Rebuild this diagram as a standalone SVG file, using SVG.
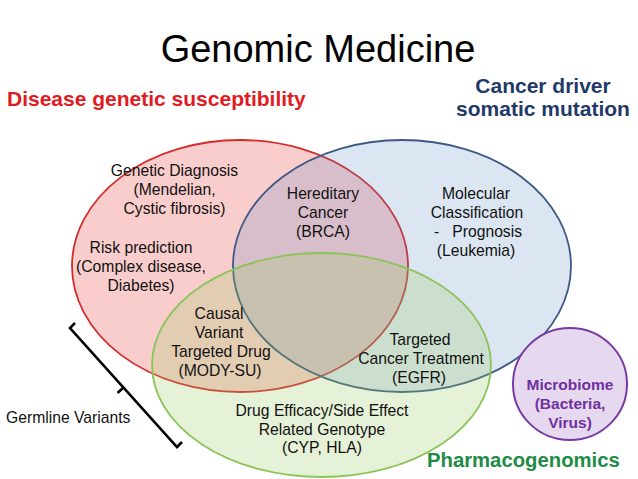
<svg xmlns="http://www.w3.org/2000/svg" width="638" height="479" viewBox="0 0 638 479">
<style>
text { font-family: "Liberation Sans", Arial, Helvetica, sans-serif; }
.t { font-size: 15.7px; fill: #111; text-anchor: middle; }
.ts { font-size: 15.7px; fill: #111; text-anchor: start; }
.title { font-size: 38px; fill: #000; text-anchor: middle; }
.hd { font-size: 21px; font-weight: bold; }
.set { stroke-width: 1.8; }
</style>
<rect width="638" height="479" fill="#ffffff"/>
<text class="title" x="318" y="62">Genomic Medicine</text>
<g id="disease">
  <ellipse class="set" cx="240" cy="266" rx="168" ry="126" fill="rgb(240,90,90)" fill-opacity="0.3" stroke="#d42b2b"/>
</g>
<g id="cancer">
  <ellipse class="set" cx="402" cy="266" rx="169" ry="126" fill="rgb(79,129,189)" fill-opacity="0.2" stroke="#3d5a86"/>
</g>
<g id="pharma">
  <ellipse class="set" cx="321.5" cy="365" rx="169.5" ry="112" fill="rgb(155,205,100)" fill-opacity="0.25" stroke="#8cc45a"/>
</g>
<g id="microbiome">
  <ellipse cx="570" cy="384" rx="57" ry="56" fill="#e6d8ef" stroke="#7a3aa6" stroke-width="2"/>
  <text class="hd" x="570" y="390" text-anchor="middle" fill="#7030a0" style="font-size:15.5px">Microbiome</text>
  <text class="hd" x="570" y="409" text-anchor="middle" fill="#7030a0" style="font-size:15.5px">(Bacteria,</text>
  <text class="hd" x="570" y="428" text-anchor="middle" fill="#7030a0" style="font-size:15.5px">Virus)</text>
</g>
<g id="labels-sets">
  <text class="hd" x="7" y="106" fill="#e11b22">Disease genetic susceptibility</text>
  <text class="hd" x="543" y="93" text-anchor="middle" fill="#1f3a68">Cancer driver</text>
  <text class="hd" x="543" y="116" text-anchor="middle" fill="#1f3a68">somatic mutation</text>
  <text class="hd" x="427" y="467" fill="#1e8c45" style="font-size:20.3px">Pharmacogenomics</text>
</g>
<g id="genetic-diagnosis">
  <text class="t" x="174.5" y="176">Genetic Diagnosis</text>
  <text class="t" x="174.5" y="195">(Mendelian,</text>
  <text class="t" x="174.5" y="214">Cystic fibrosis)</text>
</g>
<g id="risk-prediction">
  <text class="t" x="141" y="253">Risk prediction</text>
  <text class="t" x="141" y="272">(Complex disease,</text>
  <text class="t" x="141" y="291">Diabetes)</text>
</g>
<g id="hereditary-cancer">
  <text class="t" x="323" y="199">Hereditary</text>
  <text class="t" x="323" y="218">Cancer</text>
  <text class="t" x="323" y="237">(BRCA)</text>
</g>
<g id="molecular-classification">
  <text class="t" x="476" y="199">Molecular</text>
  <text class="t" x="477" y="218">Classification</text>
  <text class="t" x="478" y="237" xml:space="preserve">-   Prognosis</text>
  <text class="t" x="476" y="256">(Leukemia)</text>
</g>
<g id="causal-variant">
  <text class="t" x="219" y="319">Causal</text>
  <text class="t" x="219" y="338">Variant</text>
  <text class="t" x="221" y="357">Targeted Drug</text>
  <text class="t" x="220" y="376">(MODY-SU)</text>
</g>
<g id="targeted-cancer">
  <text class="t" x="420" y="345">Targeted</text>
  <text class="t" x="421" y="364">Cancer Treatment</text>
  <text class="t" x="419" y="383">(EGFR)</text>
</g>
<g id="drug-efficacy">
  <text class="t" x="322" y="416">Drug Efficacy/Side Effect</text>
  <text class="t" x="322" y="434.5">Related Genotype</text>
  <text class="t" x="322" y="453">(CYP, HLA)</text>
</g>
<g id="germline">
  <path d="M75,323 L70,328 L177,447 L182,442 M123.5,387.5 L117.5,393" fill="none" stroke="#000" stroke-width="2.6" stroke-linejoin="miter"/>
  <text class="ts" x="6" y="423">Germline Variants</text>
</g>
</svg>
